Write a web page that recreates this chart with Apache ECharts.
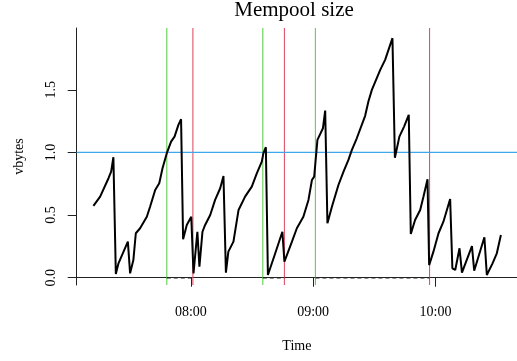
<!DOCTYPE html>
<html>
<head>
<meta charset="utf-8">
<script src="https://cdn.jsdelivr.net/npm/echarts@6/dist/echarts.min.js"></script>
<style>
  html, body { margin: 0; padding: 0; background: #fff; }
  #chart { width: 517px; height: 361px; }
</style>
</head>
<body>
<div id="chart"></div>
<script>
// time of each sample, minutes after 07:00
const sampleMinutes = [
  12.2, 15.5, 19.6, 20.9, 22.0, 23.2, 24.5, 29.1, 30.2, 31.8,
  33.0, 35.1, 38.4, 40.0, 42.5, 44.5, 46.1, 48.2, 50.3, 52.0,
  53.9, 55.2, 56.2, 58.0, 60.2, 61.3, 63.2, 64.2, 65.7, 67.0,
  69.5, 71.9, 74.4, 76.0, 77.2, 78.4, 80.9, 83.4, 86.6, 89.9,
  92.4, 94.8, 95.6, 96.8, 97.8, 101.4, 104.9, 105.9, 109.6, 112.0,
  115.2, 117.7, 119.4, 120.5, 122.1, 124.8, 125.9, 127.0, 129.2, 132.4,
  134.9, 137.3, 139.0, 141.4, 145.5, 147.1, 148.8, 152.9, 155.3, 158.9,
  160.1, 162.3, 164.6, 166.9, 167.9, 170.0, 172.5, 174.1, 176.1, 176.9,
  179.0, 181.5, 183.9, 187.2, 188.3, 189.7, 191.8, 193.0, 197.9, 199.0,
  204.0, 205.2, 208.0, 210.1, 212.1
];
// mempool size (vbytes, scaled)
const mempoolSize = [
  0.573, 0.647, 0.794, 0.847, 0.962, 0.030, 0.115, 0.288, 0.035, 0.141,
  0.355, 0.395, 0.487, 0.567, 0.700, 0.754, 0.874, 0.994, 1.086, 1.126,
  1.220, 1.265, 0.307, 0.421, 0.487, 0.035, 0.367, 0.088, 0.367, 0.421,
  0.501, 0.621, 0.714, 0.812, 0.040, 0.208, 0.288, 0.541, 0.647, 0.727,
  0.834, 0.927, 0.994, 1.042, 0.022, 0.195, 0.367, 0.128, 0.288, 0.395,
  0.487, 0.621, 0.780, 0.807, 1.100, 1.193, 1.334, 0.434, 0.567, 0.740,
  0.847, 0.940, 1.020, 1.113, 1.292, 1.406, 1.499, 1.659, 1.739, 1.912,
  0.958, 1.126, 1.206, 1.300, 0.349, 0.461, 0.541, 0.647, 0.786, 0.101,
  0.208, 0.355, 0.447, 0.629, 0.075, 0.062, 0.235, 0.040, 0.253, 0.056,
  0.323, 0.022, 0.115, 0.195, 0.341
];
// window start (green) and end (red), minutes after 07:00
const windowStart = [48.2, 95.3, 121.1];
const windowEnd = [61.0, 105.9, 177.1];
const threshold = 1.0;

const xTickMinutes = [60, 120, 180];
const xTickLabels = ['08:00', '09:00', '10:00'];
const yTicks = [0, 0.5, 1.0, 1.5];
const yTickLabels = ['0.0', '0.5', '1.0', '1.5'];

const X_MIN = 4, X_MAX = 220, Y_MIN = -0.058, Y_MAX = 1.993;
const font = "'Liberation Serif', 'DejaVu Serif', serif";

const chart = echarts.init(document.getElementById('chart'), null, { renderer: 'canvas' });

function segment(points, color, width, type, z) {
  return {
    type: 'line', z: z, silent: true, symbol: 'none', clip: true,
    data: points,
    lineStyle: { color: color, width: width, type: type, opacity: 1 },
    emphasis: { disabled: true }
  };
}

const vertical = [
  ...windowStart.map(m => segment([[m, Y_MIN], [m, Y_MAX]], '#61D04F', 1.1, 'solid', 1)),
  ...windowEnd.map(m => segment([[m, Y_MIN], [m, Y_MAX]], '#DF536B', 1.1, 'solid', 1))
];
const windows = windowStart.map((s, i) => segment([[s, 0], [windowEnd[i], 0]], '#222', 1.5, [4, 3], 2));
const thresholdLine = segment([[X_MIN, threshold], [X_MAX, threshold]], '#3FA8EC', 1.2, 'solid', 2);

const option = {
  animation: false,
  backgroundColor: '#fff',
  title: {
    text: 'Mempool size',
    left: 294,
    top: 0,
    textAlign: 'center',
    padding: 0,
    textStyle: { fontFamily: font, fontSize: 21, fontWeight: 'normal', color: '#000', lineHeight: 21 }
  },
  grid: { left: 76.7, right: 0, top: 28, bottom: 76, containLabel: false, outerBoundsMode: 'none' },
  xAxis: {
    type: 'value',
    min: X_MIN,
    max: X_MAX,
    name: 'Time',
    nameLocation: 'middle',
    nameGap: 54,
    nameMoveOverlap: false,
    nameTextStyle: { fontFamily: font, fontSize: 14, color: '#000' },
    axisLine: { show: true, lineStyle: { color: '#222', width: 1 } },
    axisTick: { show: true, length: 9, lineStyle: { color: '#222' }, customValues: xTickMinutes },
    axisLabel: {
      fontFamily: font, fontSize: 14, color: '#000', margin: 20,
      customValues: xTickMinutes,
      formatter: v => xTickLabels[xTickMinutes.indexOf(Math.round(v))] || ''
    },
    splitLine: { show: false }
  },
  yAxis: {
    type: 'value',
    min: Y_MIN,
    max: Y_MAX,
    name: 'vbytes',
    nameLocation: 'middle',
    nameGap: 50,
    nameMoveOverlap: false,
    nameTextStyle: { fontFamily: font, fontSize: 14, color: '#000' },
    axisLine: { show: true, lineStyle: { color: '#222', width: 1 } },
    axisTick: { show: true, length: 9, lineStyle: { color: '#222' }, customValues: yTicks },
    axisLabel: {
      fontFamily: font, fontSize: 14, color: '#000', margin: 18, rotate: 90,
      customValues: yTicks,
      formatter: v => yTickLabels[yTicks.indexOf(Math.round(v * 10) / 10)] || ''
    },
    splitLine: { show: false }
  },
  series: [
    ...vertical,
    ...windows,
    thresholdLine,
    {
      type: 'line',
      z: 3,
      name: 'Mempool size',
      symbol: 'none',
      data: sampleMinutes.map((m, i) => [m, mempoolSize[i]]),
      lineStyle: { color: '#000', width: 2 }
    }
  ]
};

chart.setOption(option);
</script>
</body>
</html>
